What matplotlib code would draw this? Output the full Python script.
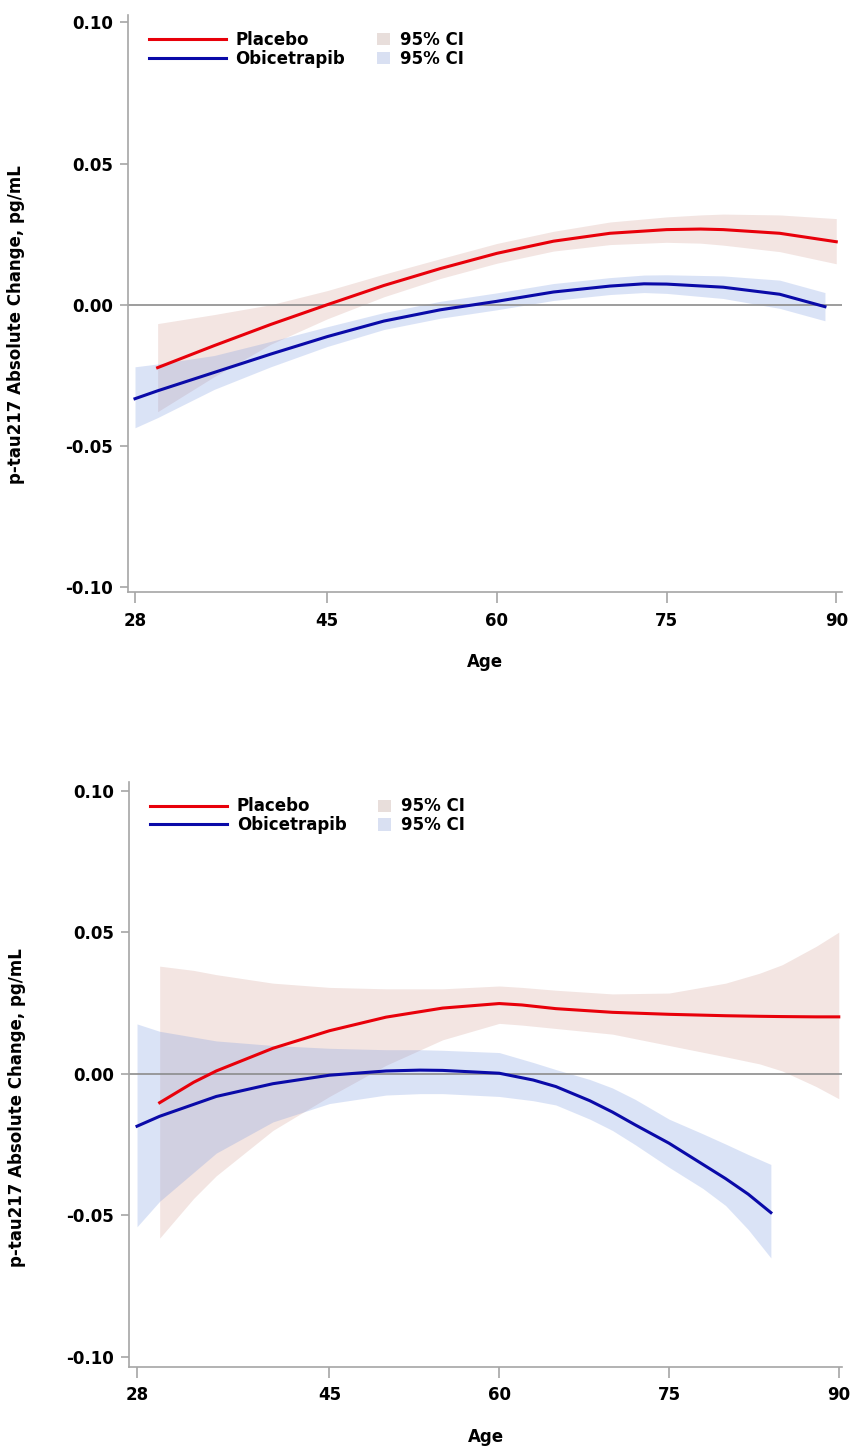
import matplotlib
matplotlib.use("Agg")
import matplotlib.pyplot as plt
from matplotlib.lines import Line2D
from matplotlib.patches import Patch

plt.rcParams["font.family"] = ["DejaVu Sans"]
plt.rcParams["font.weight"] = "bold"

# ---- upper panel ----
top_pbo_age = [30, 35, 40, 45, 50, 55, 60, 65, 70, 75, 78, 80, 85, 90]
top_pbo_fit = [-0.0223, -0.0145, -0.0070, 0.0000, 0.0068, 0.0128, 0.0182,
               0.0225, 0.0253, 0.0266, 0.0268, 0.0266, 0.0253, 0.0223]
top_pbo_lo = [-0.0379, -0.0255, -0.0140, -0.0050, 0.0028, 0.0093, 0.0147,
              0.0190, 0.0213, 0.0221, 0.0218, 0.0211, 0.0188, 0.0145]
top_pbo_hi = [-0.0067, -0.0035, 0.0000, 0.0050, 0.0108, 0.0163, 0.0217,
              0.0260, 0.0293, 0.0311, 0.0318, 0.0321, 0.0318, 0.0305]

top_obi_age = [28, 30, 35, 40, 45, 50, 55, 58, 60, 65, 70, 73, 75, 80, 85, 89]
top_obi_fit = [-0.0333, -0.0305, -0.0240, -0.0175, -0.0113, -0.0058, -0.0018,
               0.0000, 0.0012, 0.0045, 0.0066, 0.0074, 0.0073, 0.0062, 0.0037, -0.0007]
top_obi_lo = [-0.0436, -0.0400, -0.0300, -0.0220, -0.0148, -0.0088, -0.0048,
              -0.0030, -0.0018, 0.0015, 0.0036, 0.0043, 0.0040, 0.0022, -0.0013, -0.0057]
top_obi_hi = [-0.0220, -0.0210, -0.0180, -0.0130, -0.0078, -0.0028, 0.0012,
              0.0030, 0.0042, 0.0075, 0.0096, 0.0105, 0.0106, 0.0102, 0.0087, 0.0043]

# ---- lower panel ----
bot_pbo_age = [30, 33, 35, 40, 45, 50, 55, 60, 62, 65, 70, 75, 80, 83, 85, 88, 90]
bot_pbo_fit = [-0.0102, -0.0030, 0.0010, 0.0090, 0.0152, 0.0200, 0.0232, 0.0248,
               0.0243, 0.0230, 0.0217, 0.0210, 0.0205, 0.0203, 0.0202, 0.0201, 0.0201]
bot_pbo_lo = [-0.0580, -0.0440, -0.0360, -0.0200, -0.0080, 0.0030, 0.0120, 0.0178,
              0.0172, 0.0160, 0.0140, 0.0100, 0.0060, 0.0035, 0.0010, -0.0045, -0.0088]
bot_pbo_hi = [0.0380, 0.0365, 0.0350, 0.0320, 0.0305, 0.0300, 0.0300, 0.0310,
              0.0305, 0.0295, 0.0282, 0.0285, 0.0320, 0.0355, 0.0385, 0.0450, 0.0500]

bot_obi_age = [28, 30, 35, 40, 45, 50, 53, 55, 60, 63, 65, 68, 70, 72, 75, 78, 80, 82, 84]
bot_obi_fit = [-0.0185, -0.0150, -0.0080, -0.0035, -0.0005, 0.0010, 0.0013, 0.0012,
               0.0002, -0.0022, -0.0045, -0.0095, -0.0135, -0.0180, -0.0245, -0.0320,
               -0.0370, -0.0425, -0.0490]
bot_obi_lo = [-0.0540, -0.0450, -0.0280, -0.0170, -0.0105, -0.0075, -0.0070, -0.0070,
              -0.0080, -0.0095, -0.0110, -0.0160, -0.0200, -0.0250, -0.0330, -0.0405,
              -0.0465, -0.0550, -0.0650]
bot_obi_hi = [0.0176, 0.0150, 0.0116, 0.0100, 0.0090, 0.0085, 0.0085, 0.0083,
              0.0075, 0.0040, 0.0015, -0.0020, -0.0050, -0.0090, -0.0160, -0.0212,
              -0.0248, -0.0285, -0.0320]

xticks = [28, 45, 60, 75, 90]
yticks = [-0.10, -0.05, 0.00, 0.05, 0.10]

RED = "#e8000a"
BLUE = "#0a0aa8"
RED_CI = (0.78, 0.52, 0.47, 0.21)
BLUE_CI = (0.45, 0.58, 0.88, 0.26)
GRAY = "#a6a6a6"
FS = 12

fig = plt.figure(figsize=(8.55, 14.49), dpi=100)


def draw_panel(rect, xlim, ylim, pbo, obi, label_y):
    ax = fig.add_axes(rect)
    ax.fill_between(pbo[0], pbo[2], pbo[3], color=RED_CI, lw=0)
    ax.fill_between(obi[0], obi[2], obi[3], color=BLUE_CI, lw=0)
    ax.axhline(0, color="#8c8c8c", lw=1.2, zorder=2)
    ax.plot(pbo[0], pbo[1], color=RED, lw=2.2, zorder=3)
    ax.plot(obi[0], obi[1], color=BLUE, lw=2.2, zorder=3)

    ax.set_xlim(*xlim)
    ax.set_ylim(*ylim)
    ax.set_xticks(xticks)
    ax.set_yticks(yticks)
    ax.set_yticklabels([f"{v:.2f}" for v in yticks])
    for s in ["top", "right"]:
        ax.spines[s].set_visible(False)
    for s in ["left", "bottom"]:
        ax.spines[s].set_color(GRAY)
        ax.spines[s].set_linewidth(1.2)
    ax.tick_params(axis="both", colors=GRAY, width=1.2, labelsize=FS,
                   labelcolor="black")
    ax.tick_params(axis="x", length=8, pad=6)
    ax.tick_params(axis="y", length=6, pad=5)
    for t in ax.get_xticklabels() + ax.get_yticklabels():
        t.set_fontweight("bold")

    ax.set_xlabel("Age", fontsize=FS, fontweight="bold", labelpad=17)
    ax.set_ylabel("p-tau217 Absolute Change, pg/mL", fontsize=FS,
                  fontweight="bold")
    ax.yaxis.set_label_coords(-0.144, label_y)

    line_handles = [Line2D([], [], color=RED, lw=2.2),
                    Line2D([], [], color=BLUE, lw=2.2)]
    leg1 = ax.legend(line_handles, ["Placebo", "Obicetrapib"], loc="upper left",
                     bbox_to_anchor=(0.02, 0.985), frameon=False,
                     prop={"size": FS, "weight": "bold"}, handlelength=4.6,
                     handletextpad=0.6, labelspacing=0.05, borderaxespad=0)
    ax.add_artist(leg1)
    patch_handles = [Patch(facecolor=(0.91, 0.87, 0.86), lw=0),
                     Patch(facecolor=(0.85, 0.88, 0.95), lw=0)]
    ax.legend(patch_handles, ["95% CI", "95% CI"], loc="upper left",
              bbox_to_anchor=(0.34, 0.985), frameon=False,
              prop={"size": FS, "weight": "bold"}, handlelength=0.75,
              handleheight=0.75, handletextpad=0.6, labelspacing=0.05,
              borderaxespad=0)
    return ax


draw_panel([0.1497, 0.5914, 0.835, 0.398], (27.38, 90.5), (-0.1018, 0.1025),
           (top_pbo_age, top_pbo_fit, top_pbo_lo, top_pbo_hi),
           (top_obi_age, top_obi_fit, top_obi_lo, top_obi_hi), 0.463)
draw_panel([0.151, 0.0566, 0.834, 0.4037], (27.3, 90.3), (-0.1035, 0.1030),
           (bot_pbo_age, bot_pbo_fit, bot_pbo_lo, bot_pbo_hi),
           (bot_obi_age, bot_obi_fit, bot_obi_lo, bot_obi_hi), 0.443)

fig.savefig("out.png", dpi=100)
